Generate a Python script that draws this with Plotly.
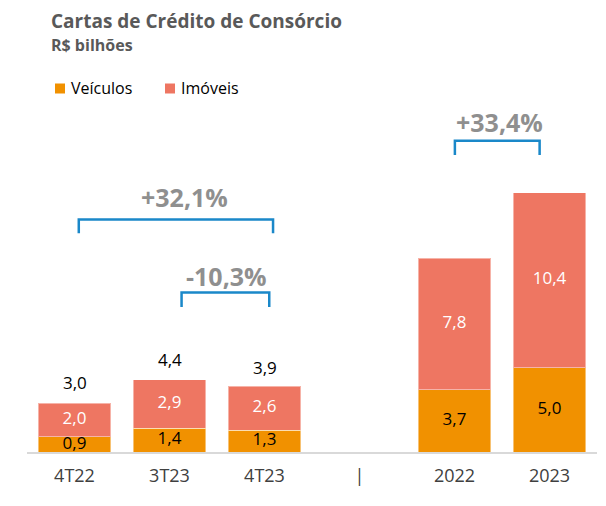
import plotly.graph_objects as go

# ---- data ----
categories = ["4T22", "3T23", "4T23", "|", "2022", "2023"]
veiculos = [0.9, 1.4, 1.3, None, 3.7, 5.0]
imoveis = [2.0, 2.9, 2.6, None, 7.8, 10.4]
totais = [3.0, 4.4, 3.9, None, 11.5, 15.4]
series_names = ["Veículos", "Imóveis"]
variacao_labels = ["+32,1%", "-10,3%", "+33,4%"]

# ---- styles ----
C_VEIC = "#F19100"
C_IMOV = "#EE7662"
FONT = "Open Sans"
OFF = 8                      # page body margin
W, H = 606 - OFF, 506 - OFF
ML, MR, MT, MB = 19, 9, 0, 54
PX_PER_UNIT = 16.85
Y_TOP = (H - MT - MB) / PX_PER_UNIT
LBL = 17


def fmt(v):
    return f"{v:.1f}".replace(".", ",")


def py(p):  # page pixel y -> paper y
    return (H - MB - (p - OFF)) / (H - MT - MB)


def px(p):  # page pixel x -> paper x
    return ((p - OFF) - ML) / (W - ML - MR)


fig = go.Figure()

fig.add_trace(go.Bar(
    name=series_names[0], x=categories, y=veiculos, marker_color=C_VEIC,
    marker_line=dict(color="rgba(255,255,255,0.45)", width=1),
    width=0.765, hoverinfo="skip", showlegend=False))
fig.add_trace(go.Bar(
    name=series_names[1], x=categories, y=imoveis, marker_color=C_IMOV,
    marker_line=dict(color="rgba(255,255,255,0.45)", width=1),
    width=0.765, hoverinfo="skip", showlegend=False))

# segment labels
vx = [c for c, v in zip(categories, veiculos) if v is not None]
vv = [v for v in veiculos if v is not None]
iv = [v for v in imoveis if v is not None]
fig.add_trace(go.Scatter(
    x=vx, y=[v / 2 for v in vv], mode="text", text=[fmt(v) for v in vv],
    textposition="middle center", textfont=dict(family=FONT, size=LBL, color="#000000"),
    showlegend=False, hoverinfo="skip"))
fig.add_trace(go.Scatter(
    x=vx, y=[a + b / 2 for a, b in zip(vv, iv)], mode="text", text=[fmt(v) for v in iv],
    textposition="middle center", textfont=dict(family=FONT, size=LBL, color="#FFFFFF"),
    showlegend=False, hoverinfo="skip"))

annotations = []
# totals
for c, t in zip(categories, totais):
    if t is None:
        continue
    annotations.append(dict(x=c, y=t, xref="x", yref="y", text=fmt(t), showarrow=False,
                            yanchor="bottom", yshift=5,
                            font=dict(family=FONT, size=LBL, color="#000000")))

# brackets (x in category index, y in data units)
brackets = [
    (0.045, 2.09, 13.80, 12.98, 1.163, 15.16),
    (1.127, 2.05, 9.46, 8.61, 1.60, 10.47),
    (4.004, 4.896, 18.47, 17.63, 4.47, 19.56),
]
shapes = []
for (x0, x1, yt, yb, lx, ly), lab in zip(brackets, variacao_labels):
    shapes.append(dict(type="path", xref="x", yref="y",
                       path=f"M {x0},{yb} L {x0},{yt} L {x1},{yt} L {x1},{yb}",
                       line=dict(color="#1A88C9", width=2.5)))
    annotations.append(dict(x=lx, y=ly, xref="x", yref="y", text=f"<b>{lab}</b>",
                            showarrow=False, font=dict(family=FONT, size=25, color="#8F8F8F")))

# legend (swatch + label)
legend_items = [(series_names[0], C_VEIC, 55), (series_names[1], C_IMOV, 165)]
for name, col, x_sw in legend_items:
    shapes.append(dict(type="rect", xref="paper", yref="paper",
                       x0=px(x_sw), x1=px(x_sw + 10), y0=py(93.5), y1=py(83.5),
                       fillcolor=col, line=dict(width=0)))
    annotations.append(dict(x=px(x_sw + 14), y=py(88.5), xref="paper", yref="paper",
                            xanchor="left", yanchor="middle", showarrow=False, text=name,
                            font=dict(family=FONT, size=16, color="#000000")))

# title & subtitle
annotations.append(dict(x=px(50), y=py(20.7), xref="paper", yref="paper", xanchor="left",
                        yanchor="middle", showarrow=False, borderpad=0,
                        text="<b>Cartas de Crédito de Consórcio</b>",
                        font=dict(family=FONT, size=19, color="#595959")))
annotations.append(dict(x=px(50), y=py(44.5), xref="paper", yref="paper", xanchor="left",
                        yanchor="middle", showarrow=False, borderpad=0, text="<b>R$ bilhões</b>",
                        font=dict(family=FONT, size=16, color="#595959")))

fig.update_layout(
    width=W, height=H,
    margin=dict(l=ML, r=MR, t=MT, b=MB),
    paper_bgcolor="white", plot_bgcolor="white",
    barmode="stack",
    font=dict(family=FONT, size=16, color="#000000"),
    showlegend=False,
    xaxis=dict(type="category", categoryorder="array", categoryarray=categories,
               range=[-0.5, 5.5], showgrid=False, zeroline=False,
               showline=True, linecolor="#D9D9D9", linewidth=1.5, ticks="",
               tickfont=dict(family=FONT, size=18, color="#404040"), ticklabelstandoff=7),
    yaxis=dict(range=[0, Y_TOP], visible=False, showgrid=False, zeroline=False),
    shapes=shapes,
    annotations=annotations,
)

fig.write_html("out.html")
